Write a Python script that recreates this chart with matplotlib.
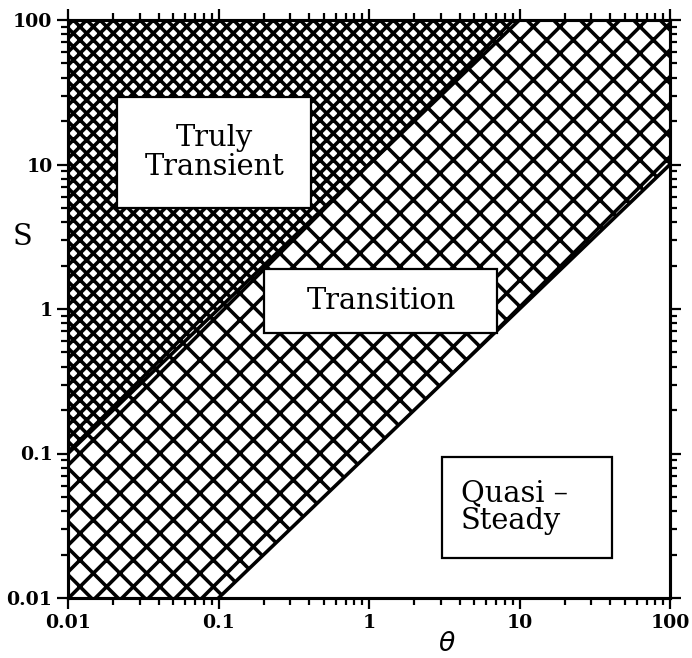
import matplotlib
matplotlib.use("Agg")
import matplotlib.pyplot as plt
from matplotlib.patches import Rectangle

# region boundaries S = 10*theta and S = 0.1*theta
theta = [0.01, 0.1, 1, 10, 100]
s_upper = [0.1, 1, 10, 100, 1000]
s_lower = [0.001, 0.01, 0.1, 1, 10]
s_top = [1000, 1000, 1000, 1000, 1000]

tick_vals = [0.01, 0.1, 1, 10, 100]
tick_labels = ['0.01', '0.1', '1', '10', '100']

region_names = ['Truly\nTransient', 'Transition', 'Quasi \u2013\nSteady']

plt.rcParams['font.family'] = 'DejaVu Serif'
plt.rcParams['hatch.linewidth'] = 1.6

fig = plt.figure(figsize=(692/160, 658/160), dpi=160)
ax = fig.add_axes([68/692, 60/658, 602/692, 578/658])

# hatched regions
ax.fill_between(theta, s_upper, s_top, facecolor='white', edgecolor='black',
                hatch='xxxx', linewidth=0)
ax.fill_between(theta, s_lower, s_upper, facecolor='white', edgecolor='black',
                hatch='xx', linewidth=0)
# region borders
ax.plot(theta, s_upper, color='black', lw=1.6)
ax.plot(theta, s_lower, color='black', lw=1.6)

ax.set_xscale('log')
ax.set_yscale('log')
ax.set_xlim(0.01, 100)
ax.set_ylim(0.01, 100)

ax.set_xticks(tick_vals)
ax.set_xticklabels(tick_labels)
ax.set_yticks(tick_vals)
ax.set_yticklabels(tick_labels)
ax.tick_params(which='both', direction='out', top=True, right=True, width=1.0)
ax.tick_params(which='major', length=5, labelsize=8.5, pad=2)
ax.tick_params(which='minor', length=3)
for lab in ax.get_xticklabels() + ax.get_yticklabels():
    lab.set_fontweight('bold')
for sp in ax.spines.values():
    sp.set_linewidth(1.4)

# label boxes
boxes = [(0.081, 0.675, 0.323, 0.192),
         (0.326, 0.458, 0.387, 0.111),
         (0.621, 0.070, 0.283, 0.174)]
for (x0, y0, w, h) in boxes:
    ax.add_patch(Rectangle((x0, y0), w, h, transform=ax.transAxes,
                           facecolor='white', edgecolor='black', linewidth=1.0,
                           zorder=3))

ax.text(0.243, 0.771, region_names[0], transform=ax.transAxes, ha='center',
        va='center', fontsize=13, linespacing=1.05, zorder=4)
ax.text(0.52, 0.513, region_names[1], transform=ax.transAxes, ha='center',
        va='center', fontsize=13, zorder=4)
ax.text(0.652, 0.157, region_names[2], transform=ax.transAxes, ha='left',
        va='center', fontsize=13, linespacing=1.0, zorder=4)

ax.text(-0.075, 0.625, 'S', transform=ax.transAxes, ha='center', va='center',
        fontsize=13)
ax.text(0.63, -0.079, r'$\theta$', transform=ax.transAxes, ha='center',
        va='center', fontsize=12)

fig.savefig('out.png', dpi=160)
